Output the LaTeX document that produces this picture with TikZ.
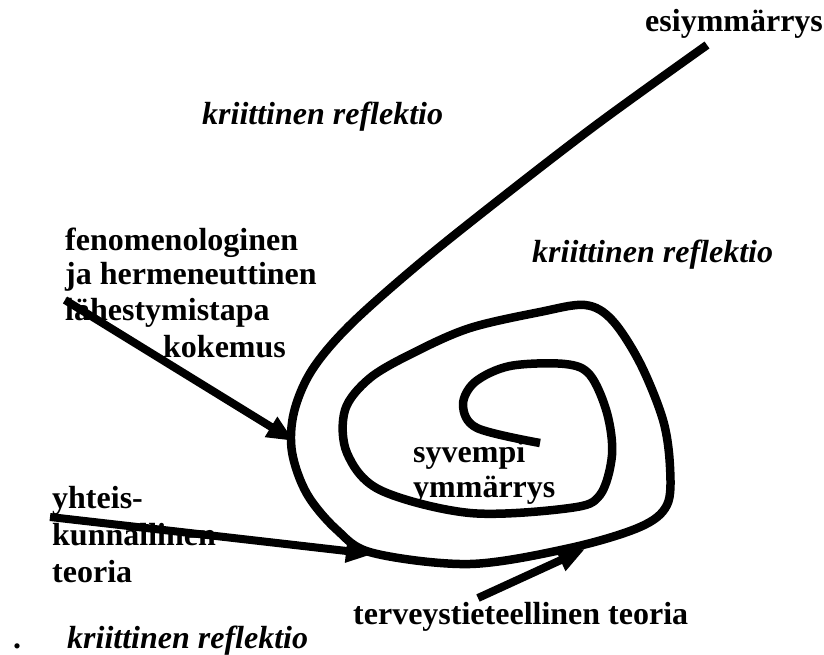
\documentclass[tikz,border=0pt]{standalone}
\usepackage{fontspec}
\setmainfont{Liberation Serif}
\usetikzlibrary{arrows.meta}
\tikzset{
  lbl/.style={anchor=base west, inner sep=0pt, font=\fontsize{32}{36}\selectfont\bfseries},
  ilbl/.style={anchor=base west, inner sep=0pt, font=\fontsize{32}{36}\selectfont\bfseries\itshape},
  thick line/.style={line width=8.5pt, line join=round},
  arr/.style={line width=8pt, -{Triangle[length=27pt,width=22pt]}},
}
\begin{document}
\begin{tikzpicture}[x=1pt,y=-1pt]
\useasboundingbox (0,0) rectangle (824,655);
% labels
\node[lbl] (esi) at (645,32) {esiymmärrys};
\node[ilbl] (kr1) at (202,125) {kriittinen reflektio};
\node[ilbl] (kr2) at (532,262) {kriittinen reflektio};
\node[lbl] (fen1) at (65,250) {fenomenologinen};
\node[lbl] (fen2) at (65,284) {ja hermeneuttinen};
\node[lbl] (fen3) at (65,320) {lähestymistapa};
\node[lbl] (kok) at (163,357) {kokemus};
\node[lbl] (syv1) at (413,462) {syvempi};
\node[lbl] (syv2) at (413,497) {ymmärrys};
\node[lbl] (yht1) at (52,508) {yhteis-};
\node[lbl] (yht2) at (52,545) {kunnallinen};
\node[lbl] (yht3) at (52,582) {teoria};
\node[lbl] (ter) at (353,624) {terveystieteellinen teoria};
\node[lbl] (dot) at (13,648) {.};
\node[ilbl] (kr3) at (67,648) {kriittinen reflektio};
% spiral
\draw[thick line] plot[smooth, tension=0.55] coordinates {
 (707,45) (600,122) (505,195) (420,263) (350,325) (312,370) (294,412) (292,452)
 (307,494) (337,530) (373,553) (470,564) (570,548) (640,527) (667,505) (670,467)
 (663,420) (640,363) (612,320) (585,305) (540,312) (470,328) (415,352) (370,378)
 (345,410) (347,453) (380,490) (470,513) (570,508) (600,495) (612,455) (607,413)
 (590,375) (565,364) (510,366) (475,382) (463,405) (477,428) (540,443)};
% arrows
\coordinate (a1s) at (65,300);
\coordinate (a1e) at (294,441);
\coordinate (a2s) at (50,517);
\coordinate (a2e) at (373,554);
\coordinate (a3s) at (478,598);
\coordinate (a3e) at (585,549);
\draw[arr] (a1s) -- (a1e);
\draw[arr] (a2s) -- (a2e);
\draw[arr] (a3s) -- (a3e);
\end{tikzpicture}
\end{document}
